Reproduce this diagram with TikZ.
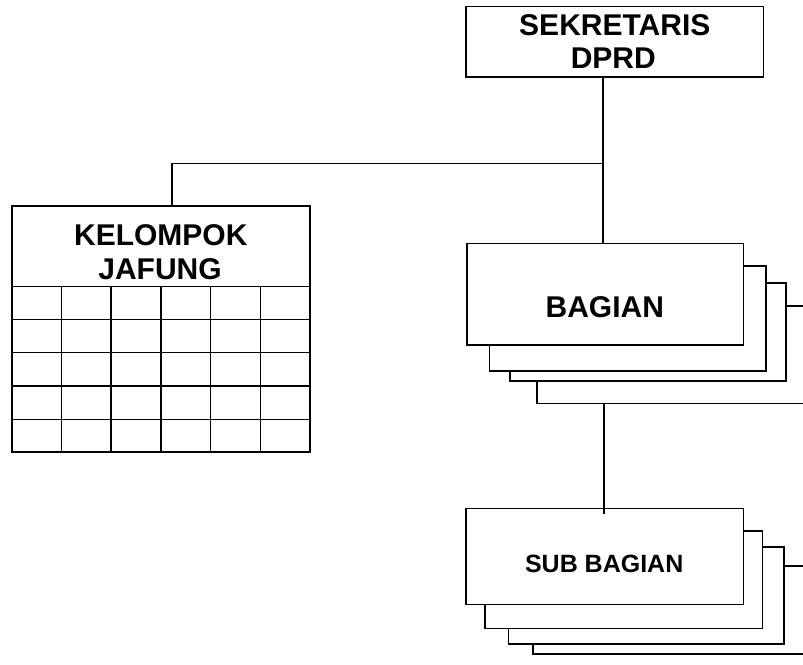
\documentclass[tikz,border=0pt]{standalone}
\usepackage{fontspec}
\setmainfont{Liberation Sans}
\usetikzlibrary{calc}
\begin{document}
\begin{tikzpicture}[x=1pt,y=-1pt,
  box/.style={draw=black,fill=white,line width=1.6pt,inner sep=0pt,outer sep=0pt,rectangle},
  link/.style={draw=black,line width=1.4pt},
  gridline/.style={draw=black,line width=1.4pt},
  biglabel/.style={anchor=base,inner sep=0pt,font=\bfseries\fontsize{30}{33}\selectfont},
  smalllabel/.style={anchor=base,inner sep=0pt,font=\bfseries\fontsize{25}{28}\selectfont}]
\useasboundingbox (0,0) rectangle (803,664);
\clip (0,0) rectangle (803,664);
% box from (x1,y1) to (x2,y2)
\newcommand\orgbox[5]{%
  \node[box,minimum width={#4-#2},minimum height={#5-#3}] (#1) at ({(#2+#4)/2},{(#3+#5)/2}) {};}

% head
\orgbox{top}{466}{6.5}{763.3}{77}
\node[biglabel] (topA) at (614.8,35) {SEKRETARIS};
\node[biglabel] (topB) at (613.3,68.3) {DPRD};

% functional group with its table
\orgbox{kel}{12}{205.7}{310}{451.7}
\node[biglabel] (kelA) at (160.8,245) {KELOMPOK};
\node[biglabel] (kelB) at (160,279.3) {JAFUNG};
\draw[gridline] (12,286.7) -- (310,286.7);
\foreach \yy in {319.3,352.7,386,419.3} \draw[gridline] (12,\yy) -- (310,\yy);
\foreach \xx in {61.7,111,161,210.7,260.7} \draw[gridline] (\xx,286.7) -- (\xx,451.7);

% stack of departments
\orgbox{b4}{536.7}{306}{830}{403.3}
\orgbox{b3}{510}{282.7}{786}{380.7}
\orgbox{b2}{489.3}{266}{765.7}{371}
\orgbox{b1}{466.7}{243.3}{743.3}{345}
\node[biglabel] (bagA) at (604.8,317.3) {BAGIAN};

% stack of sub-departments
\orgbox{s4}{532.7}{566}{830}{654}
\orgbox{s3}{508.3}{546.7}{784}{644}
\orgbox{s2}{485}{531}{762.3}{628.3}
\orgbox{s1}{466}{508.3}{743.3}{604.3}
\node[smalllabel] (subA) at (604.2,572.3) {SUB BAGIAN};

% connectors
\coordinate (spine) at (603,163.5);
\coordinate (kelin) at (172,163.5);
\coordinate (mid) at (604,450);
\draw[link] (top.south -| spine) -- (b1.north -| spine);
\draw[link] (spine) -- (kelin) -- (kelin |- kel.north);
\draw[link] (b4.south -| mid) -- ($(s1.north -| mid)+(0,5.7)$);
\end{tikzpicture}
\end{document}
